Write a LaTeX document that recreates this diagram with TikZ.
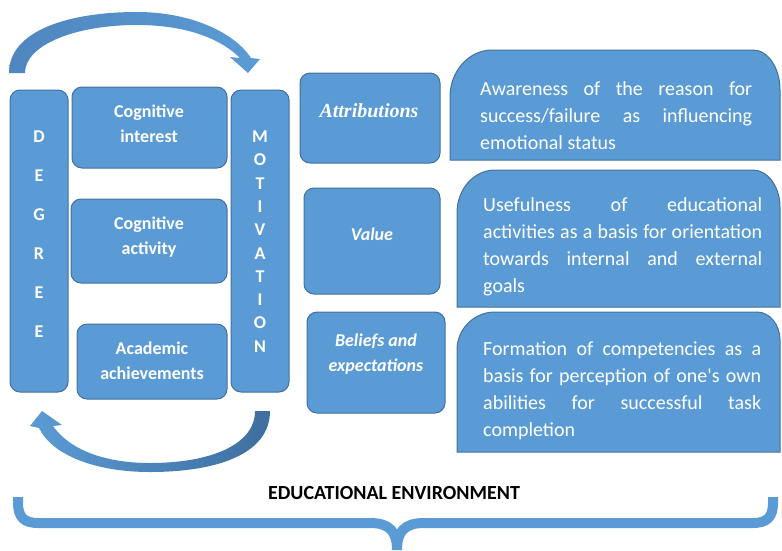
\documentclass[tikz,border=0pt]{standalone}
\usepackage{fontspec}
\setmainfont{Carlito}
\newfontfamily\timesf{Liberation Serif}
\definecolor{boxblue}{HTML}{5B9BD5}
\definecolor{edgeblue}{HTML}{41719C}
\definecolor{arrowdark}{HTML}{3E6E9F}
\definecolor{arrowmid}{HTML}{4F86BF}
\begin{document}
\begin{tikzpicture}[x=1pt,y=-1pt,
  smallbox/.style={draw=edgeblue, fill=boxblue, line width=1pt, rounded corners=10pt, inner sep=0pt},
  bigshape/.style={draw=edgeblue, fill=boxblue, line width=1pt},
  lbl/.style={text=white, font=\bfseries\fontsize{18}{24.5}\selectfont, align=center, inner sep=0pt, anchor=base},
  letter/.style={text=white, font=\bfseries\fontsize{18}{20}\selectfont, inner sep=0pt},
  body/.style={text=white, font=\fontsize{20}{27}\selectfont, align=left, inner sep=0pt, anchor=base west},
  brace/.style={draw=boxblue, line width=10pt},
  curved/.style={draw=none}]
\useasboundingbox (0,0) rectangle (782,550);

% top curved arrow
\path[curved, left color=arrowmid, right color=boxblue]
  (9,73) .. controls (9,30) and (70,12) .. (137,12)
  .. controls (190,12) and (234,32) .. (251,58)
  -- (260,59) -- (248,73) -- (230,57) -- (240,58)
  .. controls (220,38) and (185,25) .. (137,25)
  .. controls (75,25) and (25,45) .. (25,73) -- cycle;

% bottom curved arrow
\path[curved, left color=boxblue, right color=arrowdark]
  (270,411) .. controls (270,455) and (215,472) .. (150,472)
  .. controls (95,472) and (52,455) .. (39,428)
  -- (30,426) -- (42,411) -- (62,425) -- (53,426)
  .. controls (70,450) and (105,463) .. (150,463)
  .. controls (210,463) and (255,445) .. (255,411) -- cycle;

% left column boxes
\node[smallbox, minimum width=58pt, minimum height=302pt] (deg) at (39,241) {};
\node[smallbox, minimum width=58pt, minimum height=302pt] (mot) at (260,241) {};
\node[smallbox, minimum width=155pt, minimum height=81pt] (cint) at (149.5,127.5) {};
\node[smallbox, minimum width=156pt, minimum height=84pt] (cact) at (149,241) {};
\node[smallbox, minimum width=150pt, minimum height=75pt] (acad) at (152,361.5) {};

\node[lbl] (cintT) at (149,142) {Cognitive\\interest};
\node[lbl] (cactT) at (149,254) {Cognitive\\activity};
\node[lbl] (acadT) at (152,379) {Academic\\achievements};

\foreach \l/\y [count=\i] in {D/137,E/176,G/215,R/254,E/293,E/332}
  \node[letter] (d\i) at (39,\y) {\l};
\foreach \l/\y [count=\i] in {M/137,O/160,T/184,I/207,V/230,A/254,T/277,I/300,O/323,N/347}
  \node[letter] (m\i) at (260,\y) {\l};

% middle boxes
\node[smallbox, minimum width=140pt, minimum height=90pt] (attr) at (370,118) {};
\node[smallbox, minimum width=136pt, minimum height=106pt] (val) at (372,241) {};
\node[smallbox, minimum width=138pt, minimum height=101pt] (bel) at (376,362.5) {};

\node[text=white, font=\timesf\bfseries\itshape\fontsize{20}{24}\selectfont, inner sep=0pt] (attrT) at (369,111) {Attributions};
\node[text=white, font=\bfseries\itshape\fontsize{18}{24}\selectfont, inner sep=0pt] (valT) at (372,234) {Value};
\node[lbl, font=\bfseries\itshape\fontsize{18}{24.5}\selectfont] (belT) at (376,371) {Beliefs and\\expectations};

% right shapes
\path[bigshape] (450,160) -- (450,97) .. controls (450,71) and (469,50) .. (492,50)
  -- (753,50) .. controls (768,50) and (780,68) .. (780,90) -- (780,160) -- cycle;
\path[bigshape] (457,307) -- (457,213) .. controls (457,189) and (474,170) .. (495,170)
  -- (753,170) .. controls (768,170) and (780,187) .. (780,207) -- (780,307) -- cycle;
\path[bigshape] (457,452) -- (457,350) .. controls (457,329) and (474,312) .. (495,312)
  -- (757,312) .. controls (770,312) and (780,325) .. (780,340) -- (780,452) -- cycle;

\node[body] (awT) at (480,149) {\makebox[272pt][s]{Awareness of the reason for}\\
  \makebox[272pt][s]{success/failure as influencing}\\
  emotional status};
\node[body] (useT) at (483,292.5) {\makebox[279pt][s]{Usefulness of educational}\\
  \makebox[279pt][s]{activities as a basis for orientation}\\
  \makebox[279pt][s]{towards internal and external}\\
  goals};
\node[body] (forT) at (483,436) {\makebox[278pt][s]{Formation of competencies as a}\\
  \makebox[278pt][s]{basis for perception of one\textquotesingle s own}\\
  \makebox[278pt][s]{abilities for successful task}\\
  completion};

% educational environment
\node[font=\bfseries\fontsize{20}{24}\selectfont, inner sep=0pt] (env) at (394,493) {EDUCATIONAL ENVIRONMENT};
\coordinate (bl) at (18,497);
\coordinate (br) at (773,497);
\coordinate (bt) at (397,550);
\draw[brace] (bl) -- (18,503) .. controls (18,517) and (24,523) .. (38,523)
  -- (370,523) .. controls (390,523) and (397,532) .. (bt);
\draw[brace] (br) -- (773,503) .. controls (773,517) and (767,523) .. (753,523)
  -- (424,523) .. controls (404,523) and (397,532) .. (bt);
\end{tikzpicture}
\end{document}
